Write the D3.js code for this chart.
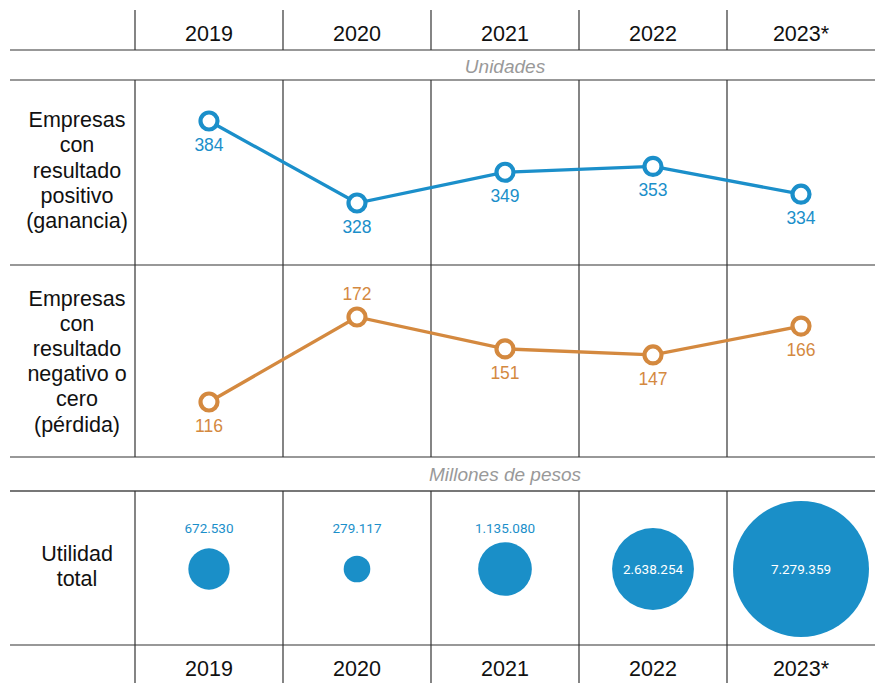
<!DOCTYPE html>
<html>
<head>
<meta charset="utf-8">
<script src="https://cdn.jsdelivr.net/npm/d3@7"></script>
<style>
  body { margin: 0; background: #fff; }
  svg { display: block; font-family: "Liberation Sans", Arial, sans-serif; }
</style>
</head>
<body>
<svg width="875" height="683"></svg>
<script>
// Data
var years = ["2019", "2020", "2021", "2022", "2023*"];
var ganancia = [384, 328, 349, 353, 334];
var perdida = [116, 172, 151, 147, 166];
var utilidad = [672530, 279117, 1135080, 2638254, 7279359];
var utilidadLabels = ["672.530", "279.117", "1.135.080", "2.638.254", "7.279.359"];
var perdidaAbove = [false, true, false, false, false];

var blue = "#1b8fca", orange = "#d4893f";

var svg = d3.select("svg"),
  width = +svg.attr("width"),
  height = +svg.attr("height");

// Columns
var x = d3.scaleBand()
  .domain(years)
  .range([135, 875]);

// Y scales for the two line panels
var yGan = d3.scaleLinear().domain([328, 384]).range([203, 121]);
var yPer = d3.scaleLinear().domain([116, 172]).range([402, 317]);

// Bubble radius
var r = d3.scaleSqrt().domain([0, 7279359]).range([0, 68]);

// Grid lines
var grid = svg.append("g").attr("stroke", "#333").attr("stroke-width", 1.2);
[50, 80, 265, 457, 645].forEach(function(y) {
  grid.append("line").attr("x1", 10).attr("x2", width).attr("y1", y).attr("y2", y);
});
grid.append("line").attr("x1", 10).attr("x2", width).attr("y1", 491).attr("y2", 491)
  .attr("stroke", "#777").attr("stroke-width", 2);

var segs = [[10, 50], [80, 457], [491, 683]];
years.forEach(function(d) {
  segs.forEach(function(s) {
    grid.append("line")
      .attr("x1", x(d)).attr("x2", x(d))
      .attr("y1", s[0]).attr("y2", s[1]);
  });
});

// Year labels top and bottom
[33, 668].forEach(function(cy) {
  svg.append("g").selectAll("text")
    .data(years)
    .enter().append("text")
    .attr("x", function(d) { return x(d) + x.bandwidth() / 2; })
    .attr("y", cy)
    .attr("dy", "0.35em")
    .attr("text-anchor", "middle")
    .attr("font-size", 21.5)
    .attr("fill", "#111")
    .text(function(d) { return d; });
});

// Section subtitles
var midX = (135 + width) / 2;
svg.append("text").attr("x", midX).attr("y", 66).attr("dy", "0.35em")
  .attr("text-anchor", "middle").attr("font-size", 19).attr("font-style", "italic")
  .attr("fill", "#999").text("Unidades");
svg.append("text").attr("x", midX).attr("y", 474).attr("dy", "0.35em")
  .attr("text-anchor", "middle").attr("font-size", 19).attr("font-style", "italic")
  .attr("fill", "#999").text("Millones de pesos");

// Row labels
function rowLabel(lines, cy) {
  var t = svg.append("text")
    .attr("text-anchor", "middle")
    .attr("font-size", 21.5)
    .attr("fill", "#111");
  var lh = 25.2;
  var y0 = cy - (lines.length - 1) * lh / 2;
  lines.forEach(function(l, i) {
    t.append("tspan").attr("x", 77).attr("y", y0 + i * lh).attr("dy", "0.35em").text(l);
  });
}
rowLabel(["Empresas", "con", "resultado", "positivo", "(ganancia)"], 170);
rowLabel(["Empresas", "con", "resultado", "negativo o", "cero", "(pérdida)"], 361);
rowLabel(["Utilidad", "total"], 566);

// Line panels
function cx(d, i) { return x(years[i]) + x.bandwidth() / 2; }

function drawLine(values, y, color, above) {
  var g = svg.append("g");
  var line = d3.line()
    .x(function(d, i) { return cx(d, i); })
    .y(function(d) { return y(d); });
  g.append("path")
    .datum(values)
    .attr("d", line)
    .attr("fill", "none")
    .attr("stroke", color)
    .attr("stroke-width", 3.3);
  g.selectAll("circle")
    .data(values)
    .enter().append("circle")
    .attr("cx", cx)
    .attr("cy", function(d) { return y(d); })
    .attr("r", 8.5)
    .attr("fill", "#fff")
    .attr("stroke", color)
    .attr("stroke-width", 4.2);
  g.selectAll("text")
    .data(values)
    .enter().append("text")
    .attr("x", cx)
    .attr("y", function(d, i) { return above && above[i] ? y(d) - 17 : y(d) + 30; })
    .attr("text-anchor", "middle")
    .attr("font-size", 17.5)
    .attr("fill", color)
    .text(function(d) { return d; });
}
drawLine(ganancia, yGan, blue, null);
drawLine(perdida, yPer, orange, perdidaAbove);

// Bubbles
var bubbleY = 569;
var bg = svg.append("g");
bg.selectAll("circle")
  .data(utilidad)
  .enter().append("circle")
  .attr("cx", cx)
  .attr("cy", bubbleY)
  .attr("r", function(d) { return r(d); })
  .attr("fill", "#1a8fc8");
bg.selectAll("text")
  .data(utilidad)
  .enter().append("text")
  .attr("x", cx)
  .attr("y", function(d) { return r(d) > 35 ? bubbleY : 528; })
  .attr("dy", "0.35em")
  .attr("text-anchor", "middle")
  .attr("font-family", "Roboto, sans-serif")
  .attr("font-size", 13.5)
  .attr("fill", function(d) { return r(d) > 35 ? "#fff" : blue; })
  .text(function(d, i) { return utilidadLabels[i]; });
</script>
</body>
</html>
